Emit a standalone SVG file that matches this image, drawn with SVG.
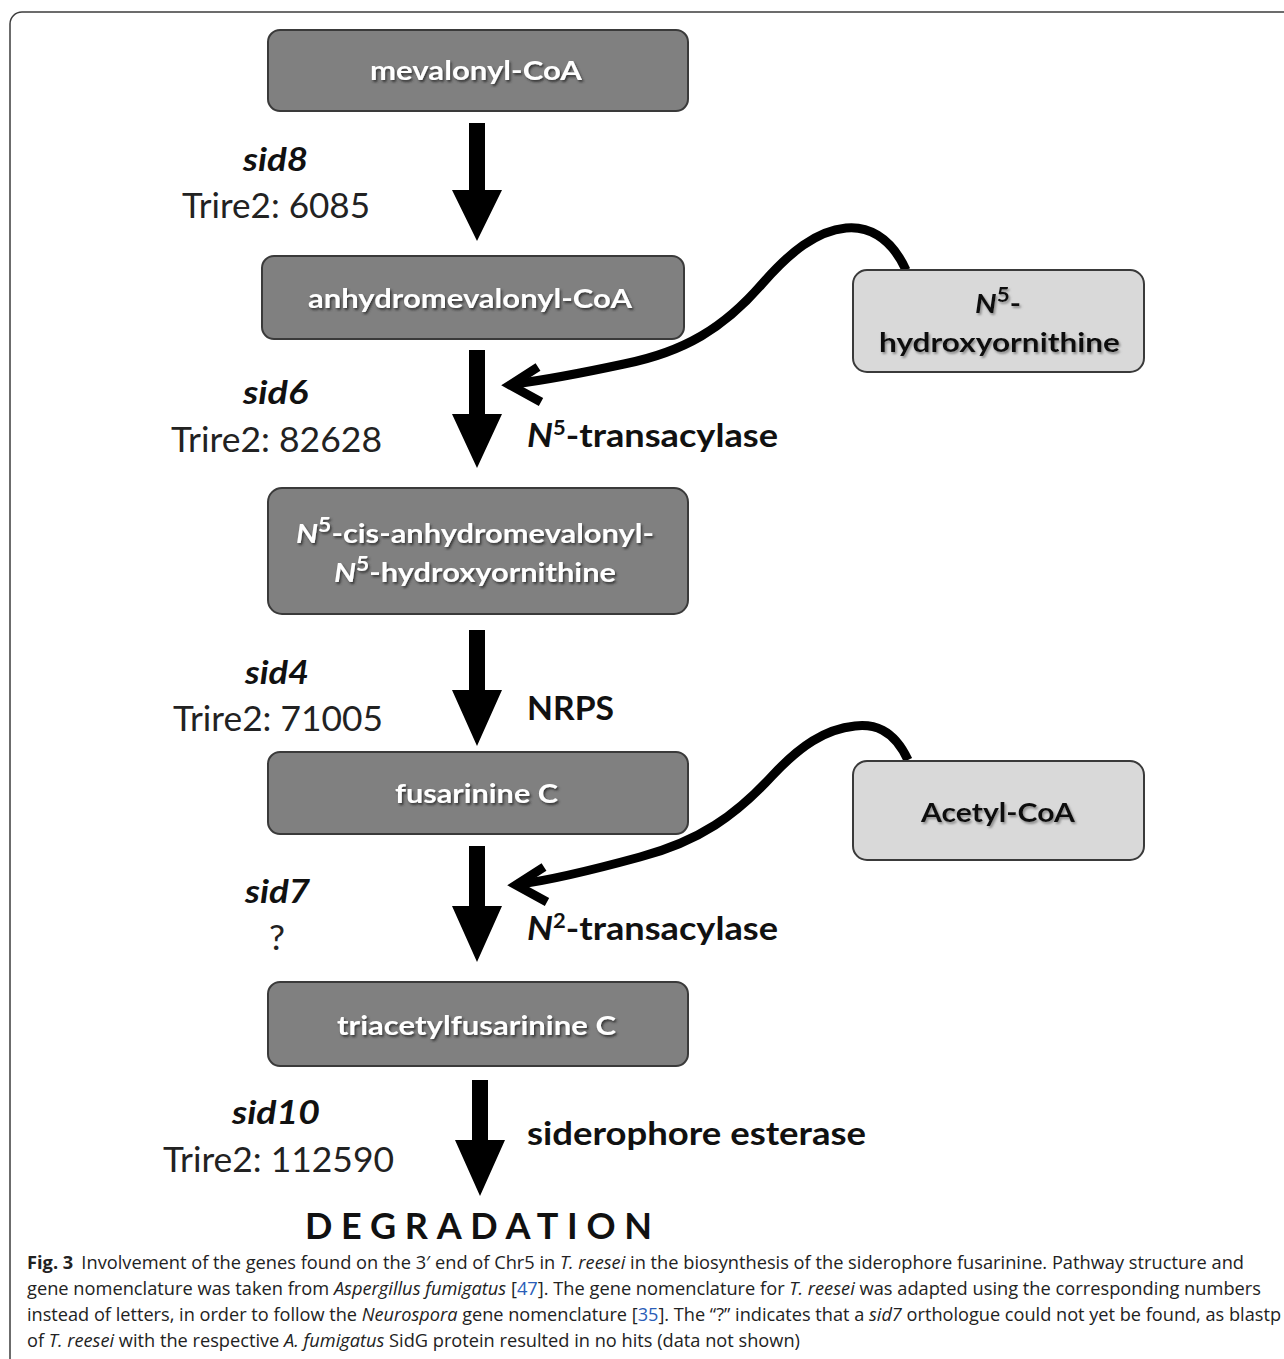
<svg xmlns="http://www.w3.org/2000/svg" width="1284" height="1359" viewBox="0 0 1284 1359">
<defs>
<filter id="sh" x="-10%" y="-30%" width="120%" height="160%">
<feDropShadow dx="1.5" dy="2" stdDeviation="1" flood-color="#2a2a2a" flood-opacity="0.85"/>
</filter>
<filter id="sh2" x="-10%" y="-30%" width="120%" height="160%">
<feDropShadow dx="1.5" dy="2" stdDeviation="1" flood-color="#777" flood-opacity="0.8"/>
</filter>
</defs>
<style>
.frame{fill:none;stroke:#3c3c3c;stroke-width:1.5}
.dk{fill:#808080;stroke:#3a3a3a;stroke-width:2}
.lt{fill:#d9d9d9;stroke:#3a3a3a;stroke-width:2}
.bw{font-family:Lato,"Liberation Sans",sans-serif;font-weight:bold;fill:#fff;font-size:27px;filter:url(#sh)}
.bb{font-family:Lato,"Liberation Sans",sans-serif;font-weight:bold;fill:#111;font-size:27px;filter:url(#sh2)}
.gene{font-family:Lato,"Liberation Sans",sans-serif;font-weight:bold;font-style:italic;font-size:32px;fill:#111}
.tri{font-family:Lato,"Liberation Sans",sans-serif;font-size:34px;fill:#222}
.enz{font-family:Lato,"Liberation Sans",sans-serif;font-weight:bold;font-size:33px;fill:#111}
.it{font-style:italic}
.sup{font-size:20px}
.cap{font-family:"Open Sans","Liberation Sans",sans-serif;font-size:18px;fill:#222}
.lnk{fill:#2a5db8}
.arr{fill:#000}
.curve{fill:none;stroke:#000;stroke-width:9}
.head{fill:none;stroke:#000;stroke-width:9;stroke-linejoin:miter;stroke-miterlimit:10}
</style>

<rect class="frame" x="10" y="12" width="1310" height="1380" rx="12"/>

<g id="connectors">
<polygon class="arr" points="469,123 485,123 485,190 502,190 477,241 452,190 469,190"/>
<polygon class="arr" points="469,350 485,350 485,414 502,414 477,468 452,414 469,414"/>
<polygon class="arr" points="469,630 485,630 485,690 502,690 477,746 452,690 469,690"/>
<polygon class="arr" points="469,846 485,846 485,906 502,906 477,962 452,906 469,906"/>
<polygon class="arr" points="472,1080 488,1080 488,1140 505,1140 480,1196 455,1140 472,1140"/>
<path class="curve" d="M 906 270 C 890 235, 866 226, 846 228 C 816 231, 790 252, 762 284 C 724 328, 684 352, 624 364 C 582 373, 545 380, 514 384"/>
<path class="head" d="M 538 367 L 510 385 L 541 402"/>
<path class="curve" d="M 908 760 C 893 728, 873 724, 855 726 C 825 729, 800 746, 772 776 C 736 815, 700 841, 640 857 C 596 869, 552 880, 520 884"/>
<path class="head" d="M 544 867 L 516 885 L 547 902"/>
</g>

<g id="n-mevalonyl">
<rect class="dk" x="268" y="30" width="420" height="81" rx="12"/>
<text class="bw" x="370" y="80" textLength="212" lengthAdjust="spacingAndGlyphs">mevalonyl-CoA</text>
</g>
<g id="n-anhydro">
<rect class="dk" x="262" y="256" width="422" height="83" rx="12"/>
<text class="bw" x="308" y="308" textLength="324" lengthAdjust="spacingAndGlyphs">anhydromevalonyl-CoA</text>
</g>
<g id="n-cis">
<rect class="dk" x="268" y="488" width="420" height="126" rx="14"/>
<text class="bw" x="296" y="543" textLength="358" lengthAdjust="spacingAndGlyphs"><tspan class="it">N</tspan><tspan class="sup" dy="-11">5</tspan><tspan dy="11">-cis-anhydromevalonyl-</tspan></text>
<text class="bw" x="334" y="582" textLength="282" lengthAdjust="spacingAndGlyphs"><tspan class="it">N</tspan><tspan class="sup" dy="-11">5</tspan><tspan dy="11">-hydroxyornithine</tspan></text>
</g>
<g id="n-fusarinine">
<rect class="dk" x="268" y="752" width="420" height="82" rx="12"/>
<text class="bw" x="395" y="803" textLength="163" lengthAdjust="spacingAndGlyphs">fusarinine C</text>
</g>
<g id="n-triacetyl">
<rect class="dk" x="268" y="982" width="420" height="84" rx="12"/>
<text class="bw" x="337" y="1035" textLength="279" lengthAdjust="spacingAndGlyphs">triacetylfusarinine C</text>
</g>
<g id="n-hydroxyornithine">
<rect class="lt" x="853" y="270" width="291" height="102" rx="14"/>
<text class="bb" x="975" y="313" textLength="46" lengthAdjust="spacingAndGlyphs"><tspan class="it">N</tspan><tspan class="sup" dy="-11">5</tspan><tspan dy="11">-</tspan></text>
<text class="bb" x="879" y="352" textLength="241" lengthAdjust="spacingAndGlyphs">hydroxyornithine</text>
</g>
<g id="n-acetyl">
<rect class="lt" x="853" y="761" width="291" height="99" rx="14"/>
<text class="bb" x="921" y="822" textLength="154" lengthAdjust="spacingAndGlyphs">Acetyl-CoA</text>
</g>

<g id="labels">
<text class="gene" x="243" y="171" textLength="65" lengthAdjust="spacingAndGlyphs">sid8</text>
<text class="tri" x="182" y="218" textLength="188" lengthAdjust="spacingAndGlyphs">Trire2: 6085</text>
<text class="gene" x="243" y="404" textLength="65" lengthAdjust="spacingAndGlyphs">sid6</text>
<text class="tri" x="171" y="452" textLength="211" lengthAdjust="spacingAndGlyphs">Trire2: 82628</text>
<text class="gene" x="245" y="684" textLength="64" lengthAdjust="spacingAndGlyphs">sid4</text>
<text class="tri" x="173" y="731" textLength="210" lengthAdjust="spacingAndGlyphs">Trire2: 71005</text>
<text class="gene" x="245" y="903" textLength="65" lengthAdjust="spacingAndGlyphs">sid7</text>
<text class="tri" x="269" y="950" textLength="16" lengthAdjust="spacingAndGlyphs">?</text>
<text class="gene" x="232" y="1124" textLength="88" lengthAdjust="spacingAndGlyphs">sid10</text>
<text class="tri" x="163" y="1172" textLength="231" lengthAdjust="spacingAndGlyphs">Trire2: 112590</text>

<text class="enz" x="527" y="447" textLength="251" lengthAdjust="spacingAndGlyphs"><tspan class="it">N</tspan><tspan class="sup" dy="-12">5</tspan><tspan dy="12">-transacylase</tspan></text>
<text class="enz" x="527" y="720" textLength="87" lengthAdjust="spacingAndGlyphs">NRPS</text>
<text class="enz" x="527" y="940" textLength="251" lengthAdjust="spacingAndGlyphs"><tspan class="it">N</tspan><tspan class="sup" dy="-12">2</tspan><tspan dy="12">-transacylase</tspan></text>
<text class="enz" x="527" y="1145" textLength="339" lengthAdjust="spacingAndGlyphs">siderophore esterase</text>
<text class="enz" x="305" y="1239" style="font-size:36px" textLength="347" lengthAdjust="spacing">DEGRADATION</text>
</g>

<g id="caption" class="cap">
<text x="27" y="1269" textLength="1217" lengthAdjust="spacingAndGlyphs"><tspan font-weight="bold">Fig. 3</tspan><tspan dx="8">Involvement of the genes found on the 3′ end of Chr5 in </tspan><tspan class="it">T. reesei</tspan><tspan> in the biosynthesis of the siderophore fusarinine. Pathway structure and</tspan></text>
<text x="27" y="1295" textLength="1234" lengthAdjust="spacingAndGlyphs">gene nomenclature was taken from <tspan class="it">Aspergillus fumigatus</tspan> [<tspan class="lnk">47</tspan>]. The gene nomenclature for <tspan class="it">T. reesei</tspan> was adapted using the corresponding numbers</text>
<text x="27" y="1321" textLength="1254" lengthAdjust="spacingAndGlyphs">instead of letters, in order to follow the <tspan class="it">Neurospora</tspan> gene nomenclature [<tspan class="lnk">35</tspan>]. The “?” indicates that a <tspan class="it">sid7</tspan> orthologue could not yet be found, as blastp</text>
<text x="27" y="1347" textLength="773" lengthAdjust="spacingAndGlyphs">of <tspan class="it">T. reesei</tspan> with the respective <tspan class="it">A. fumigatus</tspan> SidG protein resulted in no hits (data not shown)</text>
</g>
</svg>
